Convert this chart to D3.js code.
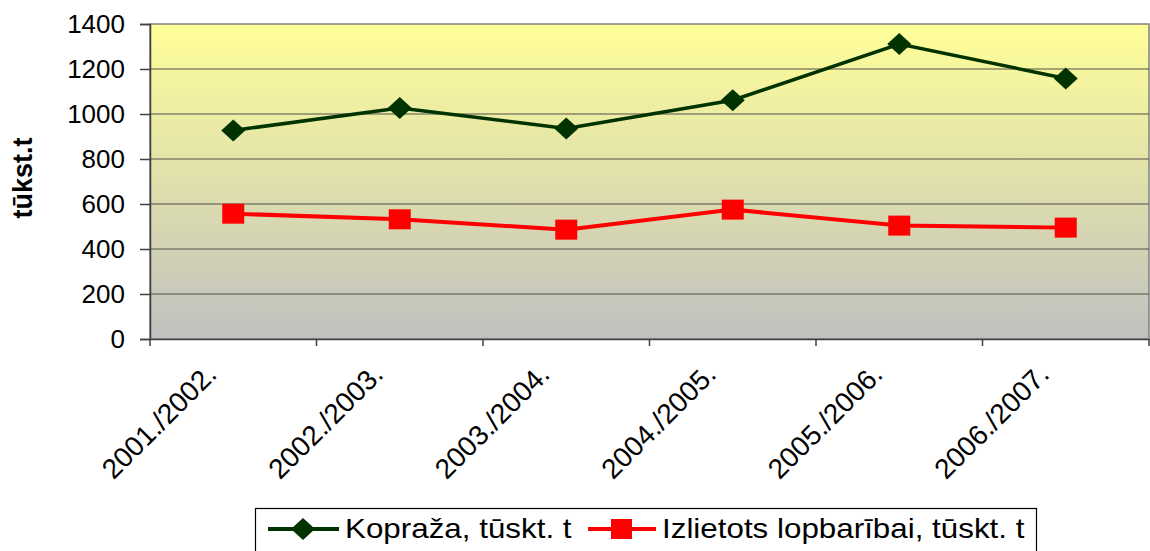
<!DOCTYPE html>
<html>
<head>
<meta charset="utf-8">
<script src="https://cdn.jsdelivr.net/npm/d3@7"></script>
<style>
  body { margin: 0; background: #fff; }
  text { font-family: "Liberation Sans", Arial, sans-serif; }
</style>
</head>
<body>
<div id="chart"></div>
<script>
// Data
const seasons = ["2001./2002.", "2002./2003.", "2003./2004.", "2004./2005.", "2005./2006.", "2006./2007."];
const kopraza = [927, 1027, 936, 1061, 1311, 1158];
const lopbaribai = [557, 532, 486, 575, 504, 495];
const yTicks = [0, 200, 400, 600, 800, 1000, 1200, 1400];

const width = 1150, height = 551;
const margin = { top: 24, right: 1, bottom: 212, left: 150 };
const chartWidth = width - margin.left - margin.right;
const chartHeight = height - margin.top - margin.bottom;

const svg = d3.select("#chart")
    .append("svg")
    .attr("width", width)
    .attr("height", height);

// background gradient
const defs = svg.append("defs");
const grad = defs.append("linearGradient")
    .attr("id", "bg")
    .attr("x1", 0).attr("y1", 0).attr("x2", 0).attr("y2", 1);
grad.append("stop").attr("offset", "0%").attr("stop-color", "#ffff99");
grad.append("stop").attr("offset", "100%").attr("stop-color", "#c0c0c0");

const g = svg.append("g")
    .attr("transform", `translate(${margin.left},${margin.top})`);

const x = d3.scaleBand()
    .domain(seasons)
    .range([0, chartWidth]);

const y = d3.scaleLinear()
    .domain([0, 1400])
    .range([chartHeight, 0]);

g.append("rect")
    .attr("width", chartWidth)
    .attr("height", chartHeight)
    .attr("fill", "url(#bg)")
    .attr("stroke", "#808080")
    .attr("stroke-width", 1.5);

// gridlines
g.selectAll(".grid")
    .data(yTicks.slice(1, -1))
    .enter()
    .append("line")
    .attr("x1", 0)
    .attr("x2", chartWidth)
    .attr("y1", d => y(d))
    .attr("y2", d => y(d))
    .attr("stroke", "#50504a")
    .attr("stroke-width", 1.2);

// y axis
const yAxis = g.append("g")
    .call(d3.axisLeft(y).tickValues(yTicks).tickFormat(d3.format("d")).tickSize(10).tickPadding(15));
yAxis.select(".domain").attr("stroke", "#404040").attr("stroke-width", 1.5);
yAxis.selectAll(".tick line").attr("stroke", "#404040").attr("stroke-width", 1.5);
yAxis.selectAll("text")
    .attr("font-size", 26)
    .attr("fill", "#000")
    .style("font-family", "'Liberation Sans', Arial, sans-serif");

// x axis
const xAxis = g.append("g")
    .attr("transform", `translate(0,${chartHeight})`)
    .call(d3.axisBottom(x).tickSize(0).tickFormat(""));
xAxis.select(".domain").attr("stroke", "#404040").attr("stroke-width", 1.5);

g.selectAll(".xtick")
    .data(seasons.concat(["end"]))
    .enter()
    .append("line")
    .attr("x1", (d, i) => i * x.bandwidth())
    .attr("x2", (d, i) => i * x.bandwidth())
    .attr("y1", chartHeight)
    .attr("y2", chartHeight + 7)
    .attr("stroke", "#404040")
    .attr("stroke-width", 1.5);

g.selectAll(".xlabel")
    .data(seasons)
    .enter()
    .append("text")
    .attr("transform", d => `translate(${x(d) + x.bandwidth() / 2 - 22},${chartHeight + 30}) rotate(-45)`)
    .attr("text-anchor", "end")
    .attr("dy", "0.35em")
    .attr("font-size", 28)
    .attr("fill", "#000")
    .text(d => d);

// y axis title
svg.append("text")
    .attr("transform", `translate(32,178) rotate(-90)`)
    .attr("text-anchor", "middle")
    .attr("font-size", 27)
    .attr("font-weight", "bold")
    .text("tūkst.t");

// lines
const line = d3.line()
    .x((d, i) => x(seasons[i]) + x.bandwidth() / 2)
    .y(d => y(d));

g.append("path")
    .datum(kopraza)
    .attr("fill", "none")
    .attr("stroke", "#003300")
    .attr("stroke-width", 3.5)
    .attr("d", line);

g.append("path")
    .datum(lopbaribai)
    .attr("fill", "none")
    .attr("stroke", "#ff0000")
    .attr("stroke-width", 4)
    .attr("d", line);

const diamond = (cx, cy) => `M${cx},${cy - 11}L${cx + 12},${cy}L${cx},${cy + 11}L${cx - 12},${cy}Z`;

g.selectAll(".dia")
    .data(kopraza)
    .enter()
    .append("path")
    .attr("d", (d, i) => diamond(x(seasons[i]) + x.bandwidth() / 2, y(d)))
    .attr("fill", "#003300");

g.selectAll(".sq")
    .data(lopbaribai)
    .enter()
    .append("rect")
    .attr("x", (d, i) => x(seasons[i]) + x.bandwidth() / 2 - 11)
    .attr("y", d => y(d) - 10)
    .attr("width", 22)
    .attr("height", 20)
    .attr("fill", "#ff0000");

// legend
const legend = svg.append("g");
legend.append("rect")
    .attr("x", 255.5)
    .attr("y", 508.5)
    .attr("width", 781)
    .attr("height", 60)
    .attr("fill", "#fff")
    .attr("stroke", "#000")
    .attr("stroke-width", 1.2);

const legY = 529;
legend.append("line")
    .attr("x1", 268).attr("x2", 339).attr("y1", legY).attr("y2", legY)
    .attr("stroke", "#003300").attr("stroke-width", 4);
legend.append("path")
    .attr("d", diamond(303, legY))
    .attr("fill", "#003300");
legend.append("text")
    .attr("transform", `translate(345,538) scale(1.12,1)`)
    .attr("font-size", 28)
    .text("Kopraža, tūskt. t");

legend.append("line")
    .attr("x1", 588).attr("x2", 656).attr("y1", legY).attr("y2", legY)
    .attr("stroke", "#ff0000").attr("stroke-width", 4);
legend.append("rect")
    .attr("x", 611).attr("y", legY - 10).attr("width", 21).attr("height", 20)
    .attr("fill", "#ff0000");
legend.append("text")
    .attr("transform", `translate(662,538) scale(1.12,1)`)
    .attr("font-size", 28)
    .text("Izlietots lopbarībai, tūskt. t");
</script>
</body>
</html>
